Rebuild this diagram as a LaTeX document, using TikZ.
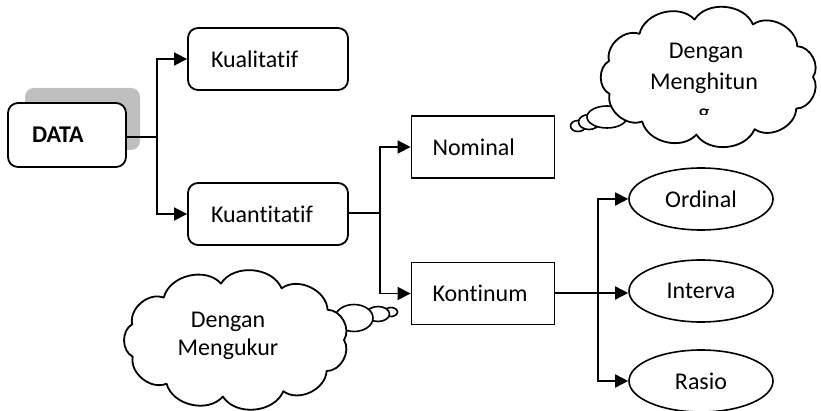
\documentclass[tikz,border=0pt]{standalone}
\usepackage{fontspec}
\setmainfont{Carlito}[Ligatures={NoCommon}]
\usetikzlibrary{arrows.meta,shapes.geometric}
% a puffy thought cloud: centre x, centre y, radius x, radius y
\newcommand\drawthoughtcloud[4]{%
  \draw[cloudline] ({#1+#3},{#2})
    \foreach \a in {33,64,97,130,163,196,228,262,295,328,360}
      { to[bend left=62] ({#1+#3*cos(\a)},{#2+#4*sin(\a)}) } -- cycle;}
\begin{document}
\begin{tikzpicture}[x=1pt,y=-1pt,
  font=\fontsize{24}{28}\selectfont,
  roundbox/.style={draw,line width=1.8pt,rounded corners=10pt,minimum width=160pt,minimum height=62pt,
    inner xsep=23pt,text width=114pt,align=left},
  squarebox/.style={draw,line width=1.8pt,minimum width=143pt,minimum height=62pt,
    inner xsep=21pt,text width=101pt,align=left},
  oval/.style={draw,line width=1.6pt,ellipse,minimum width=144pt,minimum height=62pt,inner sep=0pt},
  conn/.style={line width=1.6pt},
  arr/.style={conn,-{Triangle[length=13pt,width=13pt]}},
  puff/.style={draw,line width=1.6pt,fill=white,ellipse,inner sep=0pt},
  cloudline/.style={line width=1.8pt,fill=white,line join=round},
  shadowbox/.style={fill=black!25,draw=none,rounded corners=9pt,minimum width=115pt,minimum height=62pt}
]
\useasboundingbox (0,0) rectangle (821,411);

% DATA with its grey backing panel
\node[shadowbox] (shadow) at (82.5,119) {};
\node[draw,line width=1.8pt,fill=white,rounded corners=10pt,minimum width=118pt,minimum height=64pt,
      inner xsep=24pt,text width=70pt,align=left,font=\fontsize{24}{28}\selectfont\bfseries] (data) at (67,135) {DATA};

% first split
\node[roundbox] (kual) at (268,59) {Kualitatif};
\node[roundbox] (kuan) at (268,214) {Kuantitatif};

% second split
\node[squarebox] (nom) at (483,147) {Nominal};
\node[squarebox] (kont) at (483,293.5) {Kontinum};

% scales
\node[oval] (ord) at (701,199) {Ordinal};
\node[oval] (int) at (701,291) {Interva};
\node[oval] (ras) at (701,381) {Rasio};

% connectors
\coordinate (j1) at (157,137);
\draw[conn] (data.east |- j1) -- (j1);
\draw[arr] (j1) |- (kual.west);
\draw[arr] (j1) |- (kuan.west);

\coordinate (j2) at (380,213);
\draw[conn] (kuan.east |- j2) -- (j2);
\draw[arr] (j2) |- (nom.west);
\draw[arr] (j2) |- (kont.west);

\coordinate (j3) at (598,293);
\draw[arr] (kont.east |- j3) -- (int.west |- j3);
\draw[arr] (j3) |- (ord.west);
\draw[arr] (j3) |- (ras.west);

% thought cloud, upper right
\node[puff,minimum width=15pt,minimum height=11pt] (p1a) at (578,126) {};
\node[puff,minimum width=21pt,minimum height=15pt] (p1b) at (589,122) {};
\node[puff,minimum width=40pt,minimum height=22pt] (p1c) at (607,117) {};
\drawthoughtcloud{709}{77}{104}{58}
\node (c1a) at (706,53) {Dengan};
\node (c1b) at (704,83) {Menghitun};
\begin{scope}
  \clip (660,100) rectangle (760,115);
  \node[anchor=base] (c1c) at (704,121) {g};
\end{scope}

% thought cloud, lower left
\node[puff,minimum width=13pt,minimum height=9pt] (p2a) at (391,312) {};
\node[puff,minimum width=23pt,minimum height=15pt] (p2b) at (378,314) {};
\node[puff,minimum width=38pt,minimum height=27pt] (p2c) at (354,318) {};
\drawthoughtcloud{236}{340}{108}{57}
\node[anchor=base] (c2a) at (228,327) {Dengan};
\node[anchor=base] (c2b) at (228,355) {Mengukur};
\end{tikzpicture}
\end{document}
